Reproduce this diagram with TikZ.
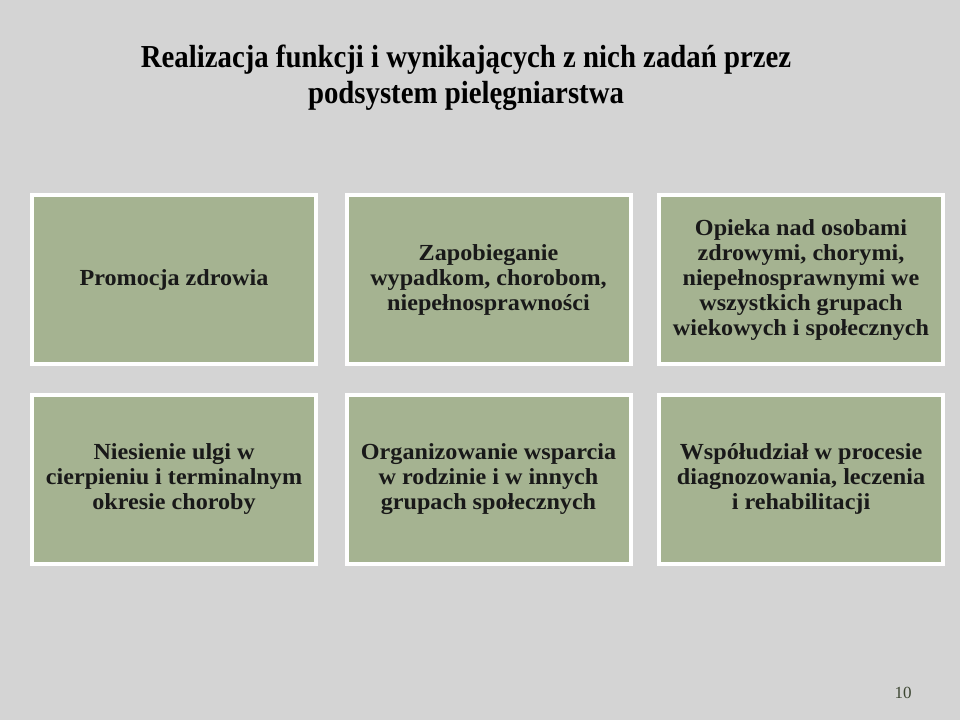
\documentclass[tikz,border=0pt]{standalone}
\usepackage{fontspec}
\setmainfont{Liberation Serif}
\newfontfamily\titlefont[FakeStretch=0.9]{Liberation Serif}
\newfontfamily\boxfont[FakeStretch=1.05]{Liberation Serif}
\newfontfamily\numfont{Liberation Serif}
\usetikzlibrary{shadows}
\definecolor{bggray}{RGB}{212,212,212}
\definecolor{boxgreen}{RGB}{165,179,145}
\definecolor{numcol}{RGB}{60,70,50}
\tikzset{
  panel/.style={draw=white, line width=4pt, fill=boxgreen,
    minimum width=284pt, minimum height=169pt, align=center,
    inner sep=0pt,
    font=\boxfont\bfseries\fontsize{23}{25}\selectfont, text=black!90,
    drop shadow={opacity=0.25, shadow xshift=2pt, shadow yshift=-2pt}},
  titletext/.style={align=center, font=\titlefont\bfseries\fontsize{32}{36}\selectfont}
}
\begin{document}
\begin{tikzpicture}[x=1pt,y=-1pt]
\fill[bggray] (0,0) rectangle (960,720);
\useasboundingbox (0,0) rectangle (960,720);
% title
\node[titletext, text=black] (title) at (466,78) {Realizacja funkcji i wynikających z nich zadań przez\\podsystem pielęgniarstwa};
% row 1
\node[panel] (b1) at (174,279.5) {Promocja zdrowia};
\node[panel] (b2) at (488.5,279.5) {Zapobieganie\\wypadkom, chorobom,\\niepełnosprawności};
\node[panel] (b3) at (801,279.5) {Opieka nad osobami\\zdrowymi, chorymi,\\niepełnosprawnymi we\\wszystkich grupach\\wiekowych i społecznych};
% row 2
\node[panel] (b4) at (174,479) {Niesienie ulgi w\\cierpieniu i terminalnym\\okresie choroby};
\node[panel] (b5) at (488.5,479) {Organizowanie wsparcia\\w rodzinie i w innych\\grupach społecznych};
\node[panel] (b6) at (801,479) {Współudział w procesie\\diagnozowania, leczenia\\i rehabilitacji};
% page number
\node[font=\numfont\fontsize{17}{18}\selectfont, text=numcol] (pnum) at (903,693) {10};
\end{tikzpicture}
\end{document}
